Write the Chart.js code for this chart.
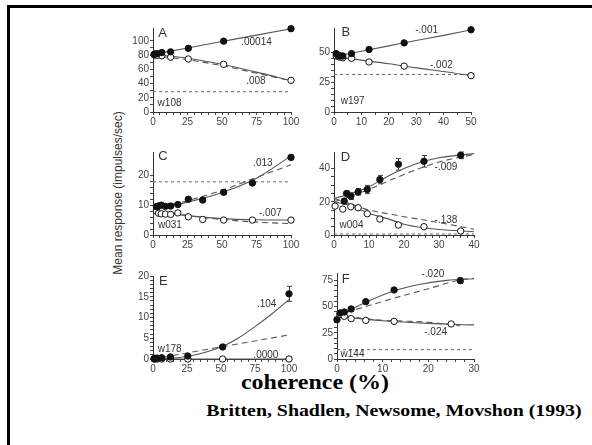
<!DOCTYPE html>
<html>
<head>
<meta charset="utf-8">
<script src="https://cdn.jsdelivr.net/npm/chart.js@4.4.0/dist/chart.umd.min.js"></script>
<style>
  body { margin: 0; background: #fff; }
  #page { position: relative; width: 592px; height: 445px; overflow: hidden; background: #fff; }
  #frame { position: absolute; left: 7px; top: 5px; width: 600px; height: 460px; border-top: 3px solid #000; border-left: 3px solid #000; }
  canvas { position: absolute; }
  #ylab { position: absolute; left: 118px; top: 193px; transform: translate(-50%, -50%) rotate(-90deg);
          font: 12px "Liberation Sans", Arial, sans-serif; color: #333; white-space: nowrap; }
  #xlab { position: absolute; left: 315px; top: 382px; transform: translate(-50%, -50%) scaleX(1.09);
          font: bold 22px "Liberation Serif", "Times New Roman", serif; color: #000; white-space: nowrap; }
  #cite { position: absolute; left: 394px; top: 411px; transform: translate(-50%, -50%) scaleX(1.24);
          font: bold 16px "Liberation Serif", "Times New Roman", serif; color: #000; white-space: nowrap; }
</style>
</head>
<body>
<div id="page">
  <div id="frame"></div>
  <div id="ylab">Mean response (impulses/sec)</div>
  <div id="xlab">coherence (%)</div>
  <div id="cite">Britten, Shadlen, Newsome, Movshon (1993)</div>
</div>
<script>
// ---- cell w108 (A)
const cohA = [0.8, 1.6, 3.2, 6.4, 12.8, 25.6, 51.2, 100];
const prefA = [81, 81.5, 82, 83.5, 84.5, 89.5, 99.5, 117];
const nullA = [80.5, 80, 79.5, 79, 77, 74.5, 67, 44.5];
const fitXA = [0, 25, 50, 75, 100];
const prefFitA = [81, 90, 99, 108, 117];
const nullFitA = [81, 75.5, 67, 56, 44];
const nullDashA = [79, 73.5, 65, 54.5, 44];
const baseA = 28.5;

// ---- cell w197 (B)
const cohB = [0.8, 1.6, 2.4, 3.2, 6.4, 12.8, 25.6, 50];
const prefB = [49, 47.5, 47, 47, 49, 52.5, 58, 69];
const nullB = [47, 46.5, 46, 45.5, 45, 42, 38.5, 30.5];
const fitXB = [0, 10, 20, 30, 40, 50];
const prefFitB = [46.5, 51, 55.5, 60, 64.3, 69];
const nullFitB = [46.5, 43.5, 40.5, 37, 34, 30.5];
const baseB = 31.5;

// ---- cell w031 (C)
const cohC = [2.5, 4, 6, 9, 12.8, 18, 25.6, 36, 51.2, 72, 100];
const prefC = [9.5, 9.7, 10, 9.6, 9.7, 10.2, 12, 11.7, 14.3, 17.4, 26];
const errC = [0, 0, 0, 0, 0, 0, 0.5, 0.5, 0.6, 0.8, 0.8];
const nullC = [8, 7.3, 7.1, 7.0, 6.9, 7.4, 6.1, 5.2, 5.0, 5.0, 5.0];
const fitXC = [0, 25, 50, 75, 100];
const prefFitC = [9, 11, 14.2, 19, 26.5];
const prefDashC = [8.8, 11.5, 15, 19.3, 23.5];
const nullFitC = [8, 6.5, 5.5, 5.1, 5];
const nullDashC = [8.5, 6.5, 5.2, 4.3, 3.8];
const baseC = 17.8;

// ---- cell w004 (D)
const cohD = [2.9, 3.6, 4.8, 6.9, 9.5, 13.1, 18.4, 25.7, 36.2];
const prefD = [20.4, 25, 23.4, 26, 27.4, 33.4, 42.6, 44.4, 48];
const errD = [1.5, 1.5, 2, 2, 2.5, 2.5, 3.5, 3.5, 2];
const nullCohD = [0.3, 2.5, 4.8, 6.9, 9.5, 13.1, 18.4, 25.7, 36.2];
const nullD = [17.4, 15.6, 17, 16.4, 12.8, 9.6, 6, 5, 2.4];
const fitXD = [0, 5, 10, 15, 20, 25, 30, 40];
const prefFitD = [22, 25, 29, 35, 40, 44, 46.5, 49];
const prefDashD = [20, 23.5, 27.5, 32, 36.5, 40.5, 44, 48.5];
const nullFitD = [20, 17.5, 13, 10, 6.5, 4.5, 3.3, 2];
const nullDashD = [22, 18.5, 15, 13, 11, 9.3, 7.5, 3.5];
const baseD = 0.6;

// ---- cell w178 (E)
const cohE = [0.8, 1.6, 3.2, 6.4, 12.8, 25.6, 51.2, 100];
const prefE = [0.1, 0.2, 0.2, 0.3, 0.5, 0.7, 2.9, 15.7];
const errE = [0, 0, 0, 0, 0, 0, 0.4, 1.8];
const nullE = [0, 0, 0, 0, 0, 0, 0, 0];
const fitXE = [0, 25, 50, 62.5, 75, 87.5, 100];
const prefFitE = [0, 0.6, 2.9, 5, 7.8, 10.9, 14.3];
const dashXE = [0, 100];
const prefDashE = [0, 5.8];

// ---- cell w144 (F)
const cohF = [0, 0.7, 1.6, 3.1, 6.3, 12.5, 27];
const prefF = [37.5, 43.9, 44.8, 47.7, 54.7, 65.8, 74.7];
const errF = [0, 0, 0, 0, 0, 0, 2.5];
const nullCohF = [0.6, 1.6, 3.1, 6.3, 12.5, 25];
const nullF = [42.3, 40.7, 38.5, 36.8, 35.9, 33.4];
const fitXF = [0, 3, 6.3, 12.5, 18, 24, 30];
const prefFitF = [41, 47, 54, 65, 71, 75, 76.5];
const dashXF = [0, 6.3, 12.5, 20, 27, 30];
const prefDashF = [42, 50, 58, 67, 75.5, 77];
const nullFitXF = [0, 5, 10, 20, 30];
const nullFitF = [41, 38.5, 36.5, 34, 32.5];
const nullDashXF = [0, 5, 10, 20, 27];
const nullDashF = [43, 39, 37, 35, 31.5];
const baseF = 8.9;

// axis tick labels
const ticks100 = [0, 25, 50, 75, 100];
const ticksB = [0, 10, 20, 30, 40, 50];
const ticksD = [0, 10, 20, 30, 40];
const ticksF = [0, 10, 20, 30];
const yTicksA = [0, 20, 40, 60, 80, 100];
const yTicksB = [0, 25, 50];
const yTicksC = [0, 10, 20];
const yTicksD = [0, 20, 40];
const yTicksE = [0, 5, 10, 15, 20];
const yTicksF = [0, 25, 50, 75];

const SANS = '"Liberation Sans", Arial, sans-serif';
const INK = '#111';
const FIT = '#555';
const Y_W = 30, X_H = 22, PAD_T = 8, PAD_R = 20;

const pts = (xs, ys) => xs.map((x, i) => ({ x, y: ys[i] }));

function filled(xs, ys, errors) {
  return { data: pts(xs, ys), errors, showLine: false, pointRadius: 3.2,
           pointBackgroundColor: INK, pointBorderColor: INK, pointBorderWidth: 1, order: 0, clip: false };
}
function open(xs, ys) {
  return { data: pts(xs, ys), showLine: false, pointRadius: 3.2,
           pointBackgroundColor: '#fff', pointBorderColor: INK, pointBorderWidth: 1, order: 1, clip: false };
}
function fit(xs, ys, dashed) {
  return { data: pts(xs, ys), showLine: true, pointRadius: 0, borderColor: FIT, borderWidth: 1.1,
           borderDash: dashed ? [6, 4] : [], cubicInterpolationMode: 'monotone', order: 2, clip: false };
}
function base(xmax, v) {
  return { data: [{ x: 0, y: v }, { x: xmax, y: v }], showLine: true, pointRadius: 0,
           borderColor: '#666', borderWidth: 1, borderDash: [3, 3], order: 3, clip: false };
}

function scale(max, labels, minor, isY) {
  const s = {
    type: 'linear', min: 0, max,
    afterBuildTicks: sc => {
      const list = [];
      for (let v = 0; v <= labels[labels.length - 1] + 1e-9; v += minor) list.push({ value: +v.toFixed(4) });
      sc.ticks = list;
    },
    ticks: {
      autoSkip: false, maxRotation: 0, padding: 1, color: '#444',
      font: { family: SANS, size: 10 },
      callback: v => labels.some(l => Math.abs(l - v) < 1e-6) ? String(v) : ''
    },
    grid: { drawOnChartArea: false, drawTicks: true, tickLength: 3, tickColor: '#444', tickWidth: 1 },
    border: { color: '#333', width: 1 }
  };
  s.afterFit = isY ? sc => { sc.width = Y_W; } : sc => { sc.height = X_H; };
  return s;
}

// slope labels, cell ids, panel letters, and error bars
const notesPlugin = {
  id: 'notes',
  beforeDatasetsDraw(chart) {
    const { ctx, scales: { x, y } } = chart;
    ctx.save();
    ctx.strokeStyle = '#444';
    ctx.lineWidth = 1;
    chart.data.datasets.forEach(ds => {
      if (!ds.errors) return;
      ds.data.forEach((p, j) => {
        const e = ds.errors[j];
        if (!e) return;
        const px = Math.round(x.getPixelForValue(p.x)) + 0.5;
        const y1 = y.getPixelForValue(p.y - e), y2 = y.getPixelForValue(p.y + e);
        ctx.beginPath();
        ctx.moveTo(px, y1); ctx.lineTo(px, y2);
        ctx.moveTo(px - 2.5, y1); ctx.lineTo(px + 2.5, y1);
        ctx.moveTo(px - 2.5, y2); ctx.lineTo(px + 2.5, y2);
        ctx.stroke();
      });
    });
    ctx.restore();
  },
  afterDatasetsDraw(chart, args, opts) {
    const { ctx, scales: { x, y } } = chart;
    ctx.save();
    ctx.textBaseline = 'middle';
    (opts.items || []).forEach(n => {
      ctx.font = (n.size || 10) + 'px ' + SANS;
      ctx.fillStyle = n.color || '#333';
      ctx.textAlign = n.align || 'center';
      ctx.fillText(n.text, x.getPixelForValue(n.x), y.getPixelForValue(n.y));
    });
    ctx.restore();
  }
};

function panel(box, xScale, yScale, datasets, items) {
  const [L, T, R, B] = box;
  const cv = document.createElement('canvas');
  cv.width = R - L + Y_W + PAD_R;
  cv.height = B - T + PAD_T + X_H;
  cv.style.left = (L - Y_W) + 'px';
  cv.style.top = (T - PAD_T) + 'px';
  document.getElementById('page').appendChild(cv);
  new Chart(cv, {
    type: 'scatter',
    data: { datasets },
    options: {
      responsive: false, animation: false,
      layout: { padding: { top: PAD_T, right: PAD_R, left: 0, bottom: 0 } },
      scales: { x: xScale, y: yScale },
      plugins: { legend: { display: false }, tooltip: { enabled: false }, notes: { items } }
    },
    plugins: [notesPlugin]
  });
}

panel([153, 28, 291, 112], scale(100, ticks100, 5), scale(118, yTicksA, 10, true), [
  filled(cohA, prefA), open(cohA, nullA),
  fit(fitXA, prefFitA), fit(fitXA, nullFitA), fit(fitXA, nullDashA, true), base(100, baseA)
], [
  { text: 'A', x: 7, y: 110.5, size: 13, align: 'center' },
  { text: '.00014', x: 75, y: 98 },
  { text: '.008', x: 74.6, y: 42.6 },
  { text: 'w108', x: 12, y: 12.6 }
]);

panel([334, 28, 471, 112], scale(50, ticksB, 5), scale(70.5, yTicksB, 5, true), [
  filled(cohB, prefB), open(cohB, nullB),
  fit(fitXB, prefFitB), fit(fitXB, nullFitB), base(50, baseB)
], [
  { text: 'B', x: 4.3, y: 66.5, size: 13 },
  { text: '-.001', x: 33.8, y: 68.2 },
  { text: '-.002', x: 39.2, y: 39.3 },
  { text: 'w197', x: 6.8, y: 9.3 }
]);

panel([153, 152, 291, 235], scale(100, ticks100, 5), scale(27.8, yTicksC, 2, true), [
  filled(cohC, prefC, errC), open(cohC, nullC),
  fit(fitXC, prefFitC), fit(fitXC, prefDashC, true), fit(fitXC, nullFitC), fit(fitXC, nullDashC, true),
  base(100, baseC)
], [
  { text: 'C', x: 7.2, y: 26.4, size: 13 },
  { text: '.013', x: 79.6, y: 23.9 },
  { text: '-.007', x: 85, y: 7.2 },
  { text: 'w031', x: 12.3, y: 3.1 }
]);

panel([334, 152, 474, 235], scale(40, ticksD, 2), scale(50, yTicksD, 5, true), [
  filled(cohD, prefD, errD), open(nullCohD, nullD),
  fit(fitXD, prefFitD), fit(fitXD, prefDashD, true), fit(fitXD, nullFitD), fit(fitXD, nullDashD, true),
  base(40, baseD)
], [
  { text: 'D', x: 3.3, y: 47, size: 13 },
  { text: '-.009', x: 32, y: 41 },
  { text: '-.138', x: 32, y: 9 },
  { text: 'w004', x: 5, y: 6 }
]);

panel([153, 276, 289, 359], scale(100, ticks100, 5), scale(20, yTicksE, 1, true), [
  filled(cohE, prefE, errE), open(cohE, nullE),
  fit(fitXE, prefFitE), fit(dashXE, prefDashE, true), fit([0, 100], [0, 0])
], [
  { text: 'E', x: 7.6, y: 18.7, size: 13 },
  { text: '.104', x: 83.6, y: 13.3 },
  { text: '.0000', x: 83, y: 1 },
  { text: 'w178', x: 12.3, y: 2.4 }
]);

panel([337, 273, 474, 359], scale(30, ticksF, 2), scale(82, yTicksF, 5, true), [
  filled(cohF, prefF, errF), open(nullCohF, nullF),
  fit(fitXF, prefFitF), fit(dashXF, prefDashF, true), fit(nullFitXF, nullFitF), fit(nullDashXF, nullDashF, true),
  base(30, baseF)
], [
  { text: 'F', x: 1.9, y: 75.7, size: 13 },
  { text: '-.020', x: 21, y: 80.4 },
  { text: '-.024', x: 21.6, y: 25.4 },
  { text: 'w144', x: 3.4, y: 4.1 }
]);
</script>
</body>
</html>
